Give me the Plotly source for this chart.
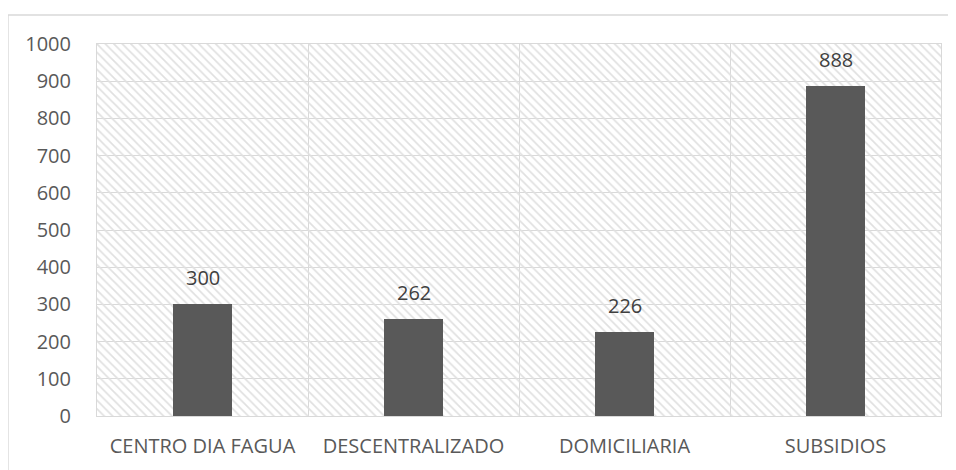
import plotly.graph_objects as go

categories = ["CENTRO DIA FAGUA", "DESCENTRALIZADO", "DOMICILIARIA", "SUBSIDIOS"]
values = [300, 262, 226, 888]
y_max = 1000
y_tick_step = 100

FONT = "Open Sans"

fig = go.Figure()

# hatched plot-area background (one band per category)
fig.add_trace(go.Bar(
    x=categories, y=[y_max] * len(categories), width=1,
    marker=dict(color="#e0e0e0", line=dict(width=0),
                pattern=dict(shape="\\", size=6, solidity=0.28, fillmode="replace")),
    hoverinfo="skip", showlegend=False,
))

fig.add_trace(go.Bar(
    x=categories, y=values, width=0.275,
    marker=dict(color="#595959", line=dict(width=0)),
    showlegend=False,
))

for c, v in zip(categories, values):
    fig.add_annotation(x=c, y=v, text=str(v), showarrow=False, yanchor="bottom",
                       yshift=11, font=dict(family=FONT, size=20, color="#404040"))

fig.update_layout(
    width=956, height=470,
    margin=dict(l=89, r=23, t=36, b=62),
    paper_bgcolor="white", plot_bgcolor="white",
    barmode="overlay", bargap=0,
    font=dict(family=FONT, color="#595959"),
)
fig.update_xaxes(
    tickson="boundaries", showgrid=True, gridcolor="#d9d9d9", gridwidth=1,
    showline=True, linecolor="#d9d9d9", mirror=True, ticks="",
    ticklabelstandoff=12,
    tickfont=dict(family=FONT, size=20, color="#595959"),
)
fig.update_yaxes(
    range=[0, y_max], dtick=y_tick_step, showgrid=True, gridcolor="#d9d9d9",
    showline=True, linecolor="#d9d9d9", mirror=True, ticks="", zeroline=False,
    ticklabelstandoff=21,
    tickfont=dict(family=FONT, size=20, color="#595959"),
)

# outer chart border
fig.add_shape(type="rect", xref="paper", yref="paper",
              x0=-0.1055, x1=1.03, y0=-0.2, y1=1.078,
              line=dict(color="#d9d9d9", width=1.5), layer="below")

fig.write_html("out.html")
